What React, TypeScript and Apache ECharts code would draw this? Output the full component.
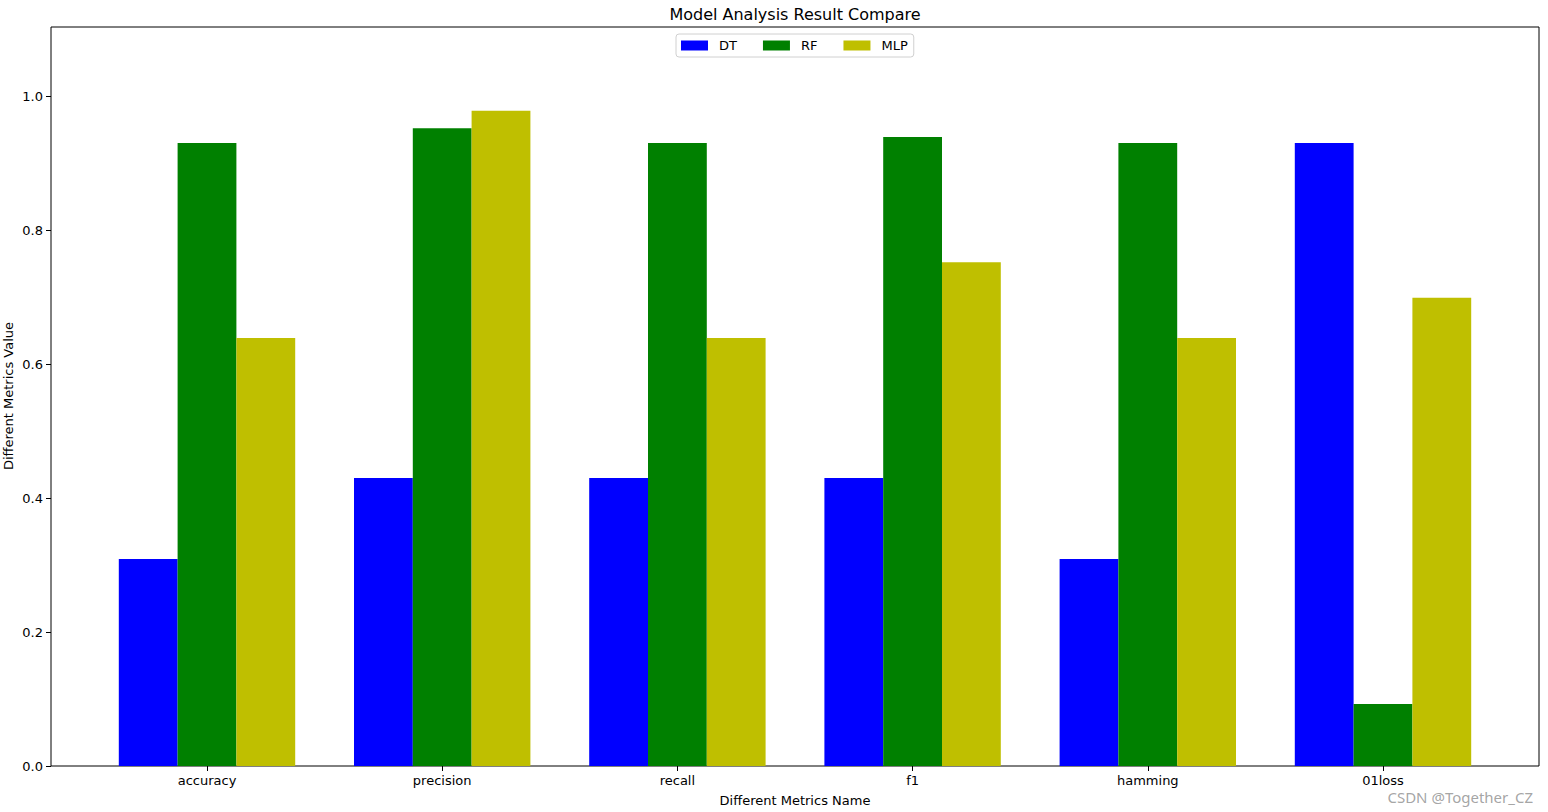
import React, { useEffect, useRef } from "react";
import * as echarts from "echarts";

const categories = ["accuracy", "precision", "recall", "f1", "hamming", "01loss"];
const seriesNames = ["DT", "RF", "MLP"];
const dtValues = [0.309, 0.43, 0.43, 0.43, 0.309, 0.93];
const rfValues = [0.93, 0.952, 0.93, 0.939, 0.93, 0.0925];
const mlpValues = [0.639, 0.978, 0.639, 0.752, 0.639, 0.699];
const colors = ["#0000ff", "#008000", "#bfbf00"];
const yMin = 0;
const yMax = 1.103;
const yInterval = 0.2;

const FONT = "DejaVu Sans";

export default function App() {
  const ref = useRef<HTMLDivElement>(null);
  useEffect(() => {
    if (!ref.current) return;
    const chart = echarts.init(ref.current, null, { renderer: "svg" });
    const values = [dtValues, rfValues, mlpValues];
    chart.setOption({
      animation: false,
      textStyle: { fontFamily: FONT },
      legend: {
        data: seriesNames,
        left: 676,
        top: 34,
        orient: "horizontal",
        itemWidth: 27,
        itemHeight: 10,
        itemGap: 26,
        padding: [5, 6, 5, 5],
        borderColor: "#d0d0d0",
        borderWidth: 1,
        borderRadius: 3,
        icon: "rect",
        textStyle: { fontFamily: FONT, fontSize: 13, color: "#000", lineHeight: 13, padding: [0, 0, 0, 6] },
      },
      grid: [
        { left: 51, right: 9, top: 27, bottom: 46, show: true, borderColor: "#000", borderWidth: 1, backgroundColor: "transparent" },
        { left: 89.4, right: 47.4, top: 27, bottom: 46 },
      ],
      xAxis: [
        { type: "value", gridIndex: 0, show: false, min: 0, max: 1 },
        {
          type: "category",
          gridIndex: 1,
          data: categories,
          axisLine: { show: false },
          axisTick: { show: true, alignWithLabel: true, length: 5, lineStyle: { color: "#000" } },
          axisLabel: { fontFamily: FONT, fontSize: 13, color: "#000", margin: 8 },
          splitLine: { show: false },
        },
      ],
      yAxis: [
        {
          type: "value",
          gridIndex: 0,
          min: yMin,
          max: yMax,
          interval: yInterval,
          axisLine: { show: false },
          axisTick: { show: true, length: 5, lineStyle: { color: "#000" } },
          axisLabel: {
            fontFamily: FONT,
            fontSize: 13,
            color: "#000",
            margin: 8,
            showMaxLabel: false,
            formatter: (v: number) => (Math.abs(v - Math.round(v / yInterval) * yInterval) < 1e-6 ? v.toFixed(1) : ""),
          },
          splitLine: { show: false },
        },
        { type: "value", gridIndex: 1, min: yMin, max: yMax, show: false, splitLine: { show: false } },
      ],
      series: seriesNames.map((name, i) => ({
        name,
        type: "bar",
        xAxisIndex: 1,
        yAxisIndex: 1,
        data: values[i],
        barGap: "0%",
        barCategoryGap: "25%",
        itemStyle: { color: colors[i] },
      })),
      graphic: [
        {
          type: "text",
          x: 795,
          y: 14,
          style: { text: "Model Analysis Result Compare", fontFamily: FONT, fontSize: 16, fill: "#000", textAlign: "center", textVerticalAlign: "middle" },
        },
        {
          type: "text",
          x: 795,
          y: 800,
          style: { text: "Different Metrics Name", fontFamily: FONT, fontSize: 13, fill: "#000", textAlign: "center", textVerticalAlign: "middle" },
        },
        {
          type: "text",
          x: 8,
          y: 396,
          rotation: Math.PI / 2,
          style: { text: "Different Metrics Value", fontFamily: FONT, fontSize: 13, fill: "#000", textAlign: "center", textVerticalAlign: "middle" },
        },
        {
          type: "text",
          x: 1533,
          y: 797,
          style: { text: "CSDN @Together_CZ", fontFamily: "Noto Sans", fontSize: 15, fill: "#9a9a9a", opacity: 0.9, textAlign: "right", textVerticalAlign: "middle" },
        },
      ],
    });
    return () => chart.dispose();
  }, []);
  return <div ref={ref} style={{ width: 1548, height: 812, position: "absolute", left: 0, top: 0 }} />;
}
